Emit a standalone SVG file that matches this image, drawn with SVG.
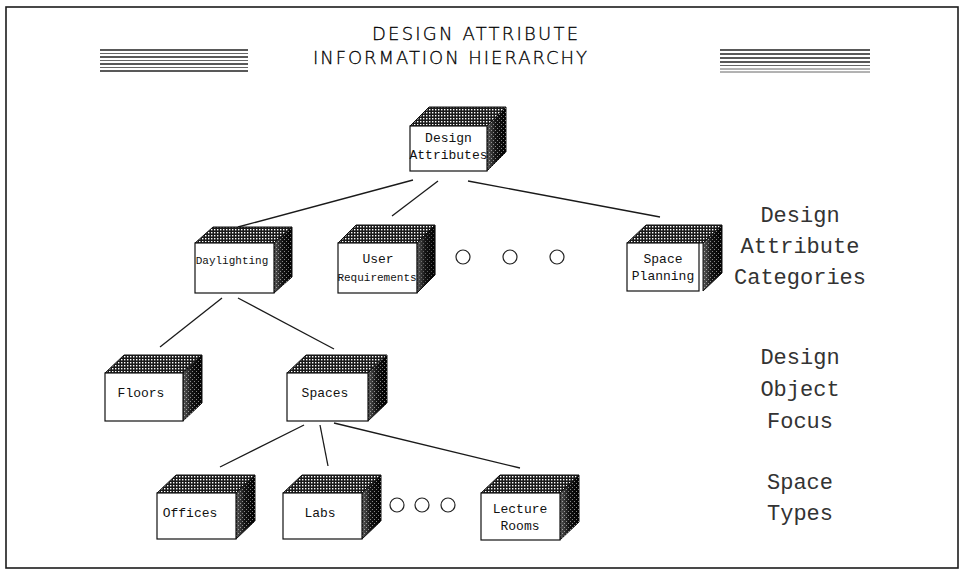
<svg xmlns="http://www.w3.org/2000/svg" width="964" height="576" viewBox="0 0 964 576">
  <defs>
    <!-- fine dot screen for the top faces -->
    <pattern id="dots" width="3" height="3" patternUnits="userSpaceOnUse">
      <rect width="3" height="3" fill="#1a1a1a"/>
      <rect x="1" y="1" width="1.4" height="1.4" fill="#ffffff"/>
    </pattern>
    <!-- sparse speckle for the shaded side faces -->
    <pattern id="speckle" width="4" height="4" patternUnits="userSpaceOnUse">
      <rect x="1" y="0" width="1" height="1" fill="#ffffff"/>
      <rect x="3" y="2" width="1" height="1" fill="#ffffff"/>
    </pattern>
    <linearGradient id="shade" x1="0" y1="0" x2="1" y2="0">
      <stop offset="0" stop-color="#5a5a5a"/>
      <stop offset="0.45" stop-color="#141414"/>
      <stop offset="1" stop-color="#000000"/>
    </linearGradient>
  </defs>
  <style>
    .frame { fill: none; stroke: #1c1c1c; stroke-width: 1.6; }
    .stripe { stroke: #222; stroke-width: 1.3; }
    .stripe-lt { stroke: #666; stroke-width: 1; }
    .title { font-family: "DejaVu Sans", "Liberation Sans", sans-serif; font-weight: 200; font-size: 18px; fill: #000; stroke: #000; stroke-width: 0.3; }
    .front { fill: #ffffff; stroke: #111; stroke-width: 1.2; }
    .top { fill: url(#dots); stroke: #111; stroke-width: 1; }
    .side { fill: url(#shade); stroke: #111; stroke-width: 1; }
    .side-sp { fill: url(#speckle); opacity: 0.5; }
    .lbl { font-family: "Liberation Mono", "Courier New", monospace; font-size: 13px; fill: #111; text-anchor: middle; }
    .lbl-s { font-family: "Liberation Mono", "Courier New", monospace; font-size: 11px; fill: #111; text-anchor: middle; }
    .level { font-family: "Liberation Mono", "Courier New", monospace; font-size: 22px; fill: #333; text-anchor: middle; }
    .edge { stroke: #1a1a1a; stroke-width: 1.3; fill: none; }
    .dot { fill: #fff; stroke: #222; stroke-width: 1.2; }
  </style>

  <rect width="964" height="576" fill="#ffffff"/>
  <rect class="frame" x="6" y="7" width="952" height="561"/>

  <!-- title with ruled bars -->
  <g id="title">
    <g>
      <line class="stripe" x1="100" y1="50" x2="248" y2="50"/>
      <line class="stripe-lt" x1="100" y1="53.5" x2="248" y2="53.5"/>
      <line class="stripe" x1="100" y1="57" x2="248" y2="57"/>
      <line class="stripe-lt" x1="100" y1="60.5" x2="248" y2="60.5"/>
      <line class="stripe" x1="100" y1="64" x2="248" y2="64"/>
      <line class="stripe-lt" x1="100" y1="67.5" x2="248" y2="67.5"/>
      <line class="stripe" x1="100" y1="71" x2="248" y2="71"/>
    </g>
    <g>
      <line class="stripe" x1="720" y1="50" x2="870" y2="50"/>
      <line class="stripe" x1="720" y1="54" x2="870" y2="54"/>
      <line class="stripe" x1="720" y1="58" x2="870" y2="58"/>
      <line class="stripe" x1="720" y1="62" x2="870" y2="62"/>
      <line class="stripe-lt" x1="720" y1="65.5" x2="870" y2="65.5"/>
      <line class="stripe-lt" x1="720" y1="69" x2="870" y2="69"/>
      <line class="stripe-lt" x1="720" y1="72" x2="870" y2="72"/>
    </g>
    <text class="title" x="372" y="40" textLength="206" lengthAdjust="spacing">DESIGN ATTRIBUTE</text>
    <text class="title" x="313" y="64" textLength="274" lengthAdjust="spacing">INFORMATION HIERARCHY</text>
  </g>

  <!-- connectors -->
  <g id="connectors">
    <line class="edge" x1="413" y1="180" x2="238" y2="227"/>
    <line class="edge" x1="438" y1="181" x2="392" y2="216"/>
    <line class="edge" x1="468" y1="181" x2="660" y2="217"/>
    <line class="edge" x1="222" y1="298" x2="160" y2="347"/>
    <line class="edge" x1="238" y1="298" x2="334" y2="349"/>
    <line class="edge" x1="304" y1="425" x2="220" y2="467"/>
    <line class="edge" x1="320" y1="425" x2="328" y2="466"/>
    <line class="edge" x1="334" y1="423" x2="520" y2="468"/>
  </g>

  <!-- level labels -->
  <g id="level-categories">
    <text class="level" x="800" y="222">Design</text>
    <text class="level" x="800" y="253">Attribute</text>
    <text class="level" x="800" y="284">Categories</text>
  </g>
  <g id="level-focus">
    <text class="level" x="800" y="364">Design</text>
    <text class="level" x="800" y="396">Object</text>
    <text class="level" x="800" y="428">Focus</text>
  </g>
  <g id="level-types">
    <text class="level" x="800" y="489">Space</text>
    <text class="level" x="800" y="520">Types</text>
  </g>

  <!-- boxes: front face at origin, depth offset (dx, -dy) -->
  <g id="design-attributes" transform="translate(410,126)">
    <polygon class="top" points="0,0 19,-19 96,-19 77,0"/>
    <polygon class="side" points="77,0 96,-19 96,26 77,45"/>
    <polygon class="side-sp" points="77,0 96,-19 96,26 77,45"/>
    <rect class="front" x="0" y="0" width="77" height="45"/>
    <text class="lbl" x="38.5" y="16">Design</text>
    <text class="lbl" x="38.5" y="33">Attributes</text>
  </g>

  <g id="daylighting" transform="translate(195,243)">
    <polygon class="top" points="0,0 18,-16 97,-16 79,0"/>
    <polygon class="side" points="79,0 97,-16 97,34 79,50"/>
    <polygon class="side-sp" points="79,0 97,-16 97,34 79,50"/>
    <rect class="front" x="0" y="0" width="79" height="50"/>
    <text class="lbl-s" x="37" y="21">Daylighting</text>
  </g>

  <g id="user-requirements" transform="translate(338,243)">
    <polygon class="top" points="0,0 18,-18 97,-18 79,0"/>
    <polygon class="side" points="79,0 97,-18 97,32 79,50"/>
    <polygon class="side-sp" points="79,0 97,-18 97,32 79,50"/>
    <rect class="front" x="0" y="0" width="79" height="50"/>
    <text class="lbl" x="40" y="20">User</text>
    <text class="lbl-s" x="39" y="38">Requirements</text>
    <polygon class="side" points="79,0 97,-18 97,32 79,50" style="opacity:0.35"/>
  </g>

  <g id="dots-categories">
    <circle class="dot" cx="463" cy="257" r="7"/>
    <circle class="dot" cx="510" cy="257" r="7"/>
    <circle class="dot" cx="557" cy="257" r="7"/>
  </g>

  <g id="space-planning" transform="translate(627,243)">
    <polygon class="top" points="0,0 19,-18 95,-18 76,0"/>
    <polygon class="side" points="76,0 95,-18 95,30 76,48"/>
    <polygon class="side-sp" points="76,0 95,-18 95,30 76,48"/>
    <rect class="front" x="0" y="0" width="72" height="48"/>
    <text class="lbl" x="36" y="20">Space</text>
    <text class="lbl" x="36" y="37">Planning</text>
  </g>

  <g id="floors" transform="translate(105,373)">
    <polygon class="top" points="0,0 19,-18 97,-18 78,0"/>
    <polygon class="side" points="78,0 97,-18 97,30 78,48"/>
    <polygon class="side-sp" points="78,0 97,-18 97,30 78,48"/>
    <rect class="front" x="0" y="0" width="78" height="48"/>
    <text class="lbl" x="36" y="24">Floors</text>
  </g>

  <g id="spaces" transform="translate(287,373)">
    <polygon class="top" points="0,0 19,-18 100,-18 81,0"/>
    <polygon class="side" points="81,0 100,-18 100,30 81,48"/>
    <polygon class="side-sp" points="81,0 100,-18 100,30 81,48"/>
    <rect class="front" x="0" y="0" width="81" height="48"/>
    <text class="lbl" x="38" y="24">Spaces</text>
  </g>

  <g id="offices" transform="translate(157,493)">
    <polygon class="top" points="0,0 19,-18 98,-18 79,0"/>
    <polygon class="side" points="79,0 98,-18 98,28 79,46"/>
    <polygon class="side-sp" points="79,0 98,-18 98,28 79,46"/>
    <rect class="front" x="0" y="0" width="79" height="46"/>
    <text class="lbl" x="33" y="24">Offices</text>
  </g>

  <g id="labs" transform="translate(283,493)">
    <polygon class="top" points="0,0 19,-18 98,-18 79,0"/>
    <polygon class="side" points="79,0 98,-18 98,28 79,46"/>
    <polygon class="side-sp" points="79,0 98,-18 98,28 79,46"/>
    <rect class="front" x="0" y="0" width="79" height="46"/>
    <text class="lbl" x="37" y="24">Labs</text>
  </g>

  <g id="dots-types">
    <circle class="dot" cx="397" cy="505" r="7"/>
    <circle class="dot" cx="422" cy="505" r="7"/>
    <circle class="dot" cx="448" cy="505" r="7"/>
  </g>

  <g id="lecture-rooms" transform="translate(481,493)">
    <polygon class="top" points="0,0 19,-18 98,-18 79,0"/>
    <polygon class="side" points="79,0 98,-18 98,29 79,47"/>
    <polygon class="side-sp" points="79,0 98,-18 98,29 79,47"/>
    <rect class="front" x="0" y="0" width="79" height="47"/>
    <text class="lbl" x="39" y="20">Lecture</text>
    <text class="lbl" x="39" y="37">Rooms</text>
  </g>
</svg>
